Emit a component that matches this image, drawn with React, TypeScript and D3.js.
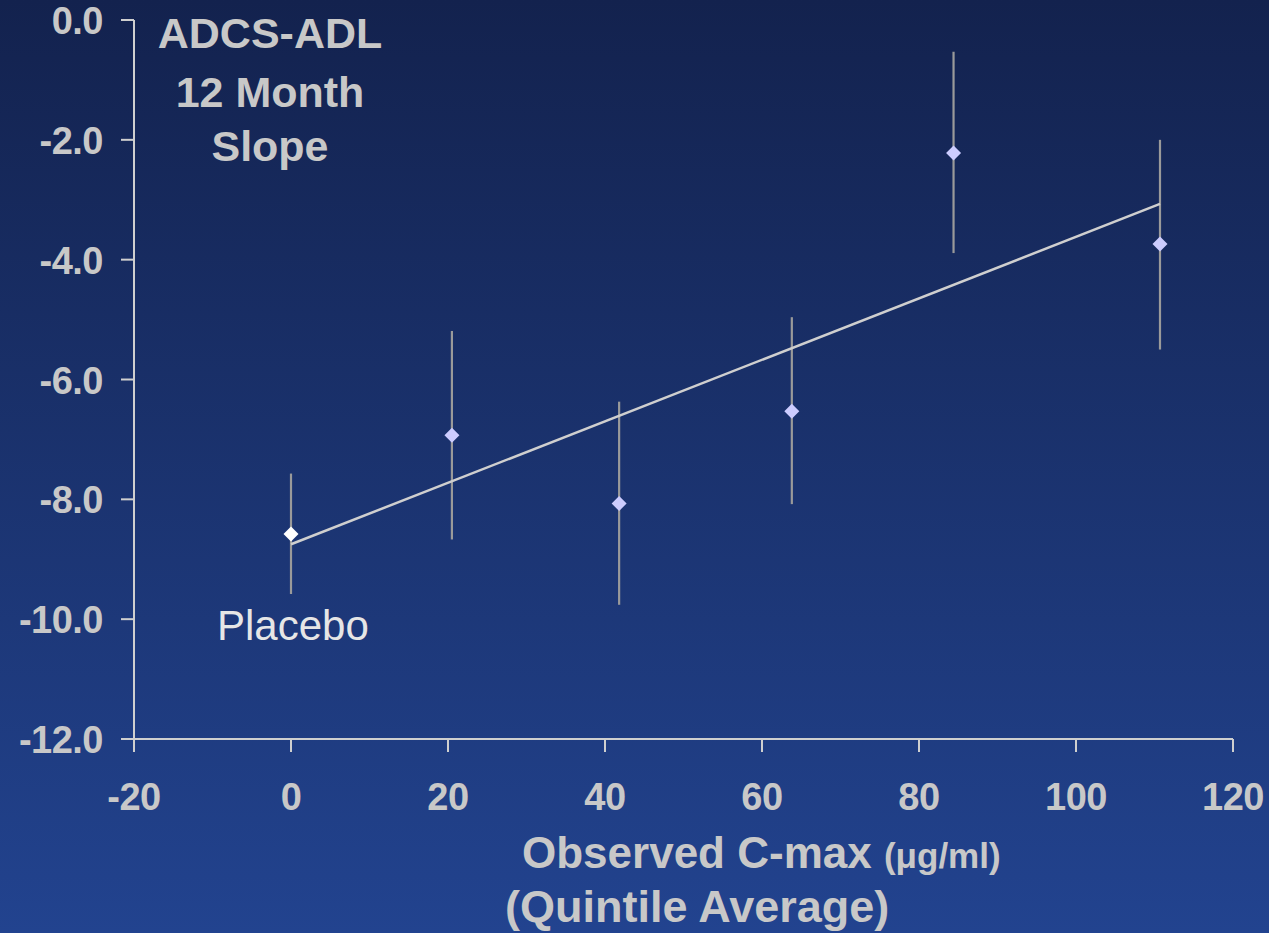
import React from "react";
import * as d3 from "d3";

const xValues = [0, 20.5, 41.8, 63.8, 84.4, 110.7];
const yValues = [-8.58, -6.93, -8.07, -6.53, -2.22, -3.74];
const yUpper = [-7.57, -5.19, -6.37, -4.96, -0.53, -2.0];
const yLower = [-9.58, -8.67, -9.76, -8.08, -3.89, -5.5];
const trendX = [0, 110.7];
const trendY = [-8.75, -3.07];
const xTicks = [-20, 0, 20, 40, 60, 80, 100, 120];
const yTicks = [0, -2, -4, -6, -8, -10, -12];

const W = 1269;
const H = 933;

export default function App() {
  const x = d3.scaleLinear().domain([-20, 120]).range([134, 1233]);
  const y = d3.scaleLinear().domain([0, -12]).range([20, 739]);
  const line = d3
    .line<number>()
    .x((d, i) => x(trendX[i]))
    .y((d) => y(d));
  const font = "'Liberation Sans', Arial, sans-serif";
  const axisColor = "#cfcfcf";
  const textColor = "#c8c8c8";
  const diamond = (cx: number, cy: number, r: number) =>
    `M${cx},${cy - r}L${cx + r},${cy}L${cx},${cy + r}L${cx - r},${cy}Z`;

  return (
    <svg
      width={W}
      height={H}
      style={{ position: "absolute", left: 0, top: 0 }}
      fontFamily={font}
    >
      <defs>
        <linearGradient id="bg" x1="0" y1="0" x2="0" y2="1">
          <stop offset="0" stopColor="#13224e" />
          <stop offset="1" stopColor="#22438f" />
        </linearGradient>
      </defs>
      <rect x={0} y={0} width={W} height={H} fill="url(#bg)" />

      {/* axes */}
      <line x1={x(-20)} x2={x(-20)} y1={y(0)} y2={y(-12)} stroke={axisColor} strokeWidth={2} />
      <line x1={x(-20)} x2={x(120)} y1={y(-12)} y2={y(-12)} stroke={axisColor} strokeWidth={2} />
      {yTicks.map((t) => (
        <g key={"y" + t}>
          <line x1={x(-20) - 13} x2={x(-20)} y1={y(t)} y2={y(t)} stroke={axisColor} strokeWidth={2} />
          <text
            x={103}
            y={y(t) + 14}
            textAnchor="end"
            fontSize={38}
            fontWeight="bold"
            letterSpacing={-0.5}
            fill={textColor}
          >
            {t.toFixed(1)}
          </text>
        </g>
      ))}
      {xTicks.map((t) => (
        <g key={"x" + t}>
          <line x1={x(t)} x2={x(t)} y1={y(-12)} y2={y(-12) + 13} stroke={axisColor} strokeWidth={2} />
          <text
            x={x(t)}
            y={810}
            textAnchor="middle"
            fontSize={38}
            fontWeight="bold"
            letterSpacing={-0.5}
            fill={textColor}
          >
            {t}
          </text>
        </g>
      ))}

      {/* error bars */}
      {xValues.map((xv, i) => (
        <line
          key={"e" + i}
          x1={x(xv)}
          x2={x(xv)}
          y1={y(yUpper[i])}
          y2={y(yLower[i])}
          stroke="#9a9a9a"
          strokeWidth={2.2}
        />
      ))}

      {/* trend line */}
      <path d={line(trendY) || ""} fill="none" stroke="#cfcfcf" strokeWidth={2.5} />

      {/* markers */}
      {xValues.map((xv, i) => (
        <path
          key={"m" + i}
          d={diamond(x(xv), y(yValues[i]), 7.5)}
          fill={i === 0 ? "#ffffff" : "#ccccff"}
        />
      ))}

      {/* title */}
      <text fontSize={43} fontWeight="bold" fill={textColor} textAnchor="middle">
        <tspan x={270} y={48}>ADCS-ADL</tspan>
        <tspan x={270} y={107}>12 Month</tspan>
        <tspan x={270} y={161}>Slope</tspan>
      </text>

      <text x={217} y={640} fontSize={42} fill="#e6e6e6">
        Placebo
      </text>

      {/* x axis title */}
      <text x={522} y={868} fontSize={44} fontWeight="bold" fill={textColor}>
        Observed C-max <tspan fontSize={35}>(μg/ml)</tspan>
      </text>
      <text x={505} y={922} fontSize={45} fontWeight="bold" fill={textColor}>
        (Quintile Average)
      </text>
    </svg>
  );
}
